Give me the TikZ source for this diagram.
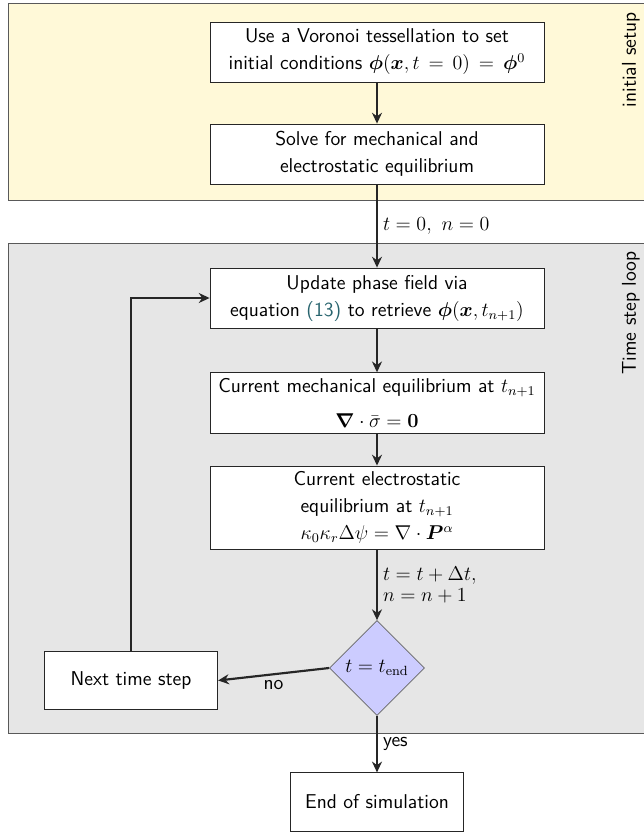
\documentclass[tikz,border=0pt]{standalone}
\usepackage{amsmath}
\usepackage{bm}
\usepackage{tikz}
\usetikzlibrary{arrows.meta,shapes.geometric}
\renewcommand{\familydefault}{\sfdefault}
\definecolor{setupc}{RGB}{255,249,216}
\definecolor{loopc}{RGB}{230,230,230}
\definecolor{decic}{RGB}{204,204,255}
\definecolor{linkc}{RGB}{40,100,110}
\definecolor{inkc}{RGB}{38,38,38}

\begin{document}
\begin{tikzpicture}[x=0.6pt,y=-0.6pt,
  box/.style={draw=black!85,fill=white,line width=0.5pt,align=center,
    minimum width=200.4pt,minimum height=36pt,font={\fontsize{12}{16.2}\selectfont}},
  sbox/.style={box,minimum width=104pt,minimum height=35pt},
  deci/.style={diamond,draw=black!60,fill=decic,line width=0.4pt,
    minimum width=57pt,minimum height=57pt,inner sep=0pt,font=\fontsize{12}{14}\selectfont},
  flow/.style={inkc,line width=1.3pt,-{Stealth[length=6.5pt,width=6pt]}},
  lab/.style={text=black,font={\fontsize{12}{13}\selectfont},inner sep=3pt},
  side/.style={rotate=90,inner sep=0pt,font=\fontsize{12}{14}\selectfont}]
\clip (0,0) rectangle (644,832);
% stages
\draw[black!65,fill=setupc,line width=0.5pt] (8,3) rectangle (660,200);
\draw[black!65,fill=loopc,line width=0.5pt] (8,243) rectangle (660,733);
\node[side,anchor=south east] (lsetup) at (640,12) {initial setup};
\node[side,anchor=south east] (lloop) at (640,251) {Time step loop};

\node[box] (voro) at (377,52) {Use a Voronoi tessellation to set\\
  initial conditions $\bm{\phi}(\bm{x},t\,=\,0)\,=\,\bm{\phi}^0$};
\node[box] (equi) at (377,154) {Solve for mechanical and\\ electrostatic equilibrium};
\node[box] (phase) at (377,298) {Update phase field via\\
  equation \textcolor{linkc}{(13)} to retrieve $\bm{\phi}(\bm{x},t_{n+1})$};
\node[box] (mech) at (377,403) {Current mechanical equilibrium at $t_{n+1}$\\[5pt]
  $\bm{\nabla}\cdot\bar{\sigma}=\mathbf{0}$};
\node[box] (elec) at (377,507.5) {Current electrostatic\\ equilibrium at $t_{n+1}$\\
  $\kappa_0\kappa_r\Delta\psi=\nabla\cdot\bm{P}^{\alpha}$};
\node[deci] (tend) at (377,668) {$t=t_{\mathrm{end}}$};
\node[sbox] (next) at (131,680.5) {Next time step};
\node[sbox] (fin) at (377,802) {End of simulation};

\draw[flow] (voro) -- (equi);
\draw[flow] (equi) -- (phase) node[lab,midway,right] {$t=0,\ n=0$};
\draw[flow] (phase) -- (mech);
\draw[flow] (mech) -- (elec);
\draw[flow] (elec) -- (tend) node[lab,midway,right,align=left] {$t=t+\Delta t,$\\ $n=n+1$};
\draw[flow] (tend.west) -- (next.east) node[lab,midway,below] {no};
\draw[flow] (tend) -- (fin) node[lab,midway,right] {yes};
\draw[flow] (next.north) |- (phase.west);
\end{tikzpicture}
\end{document}
